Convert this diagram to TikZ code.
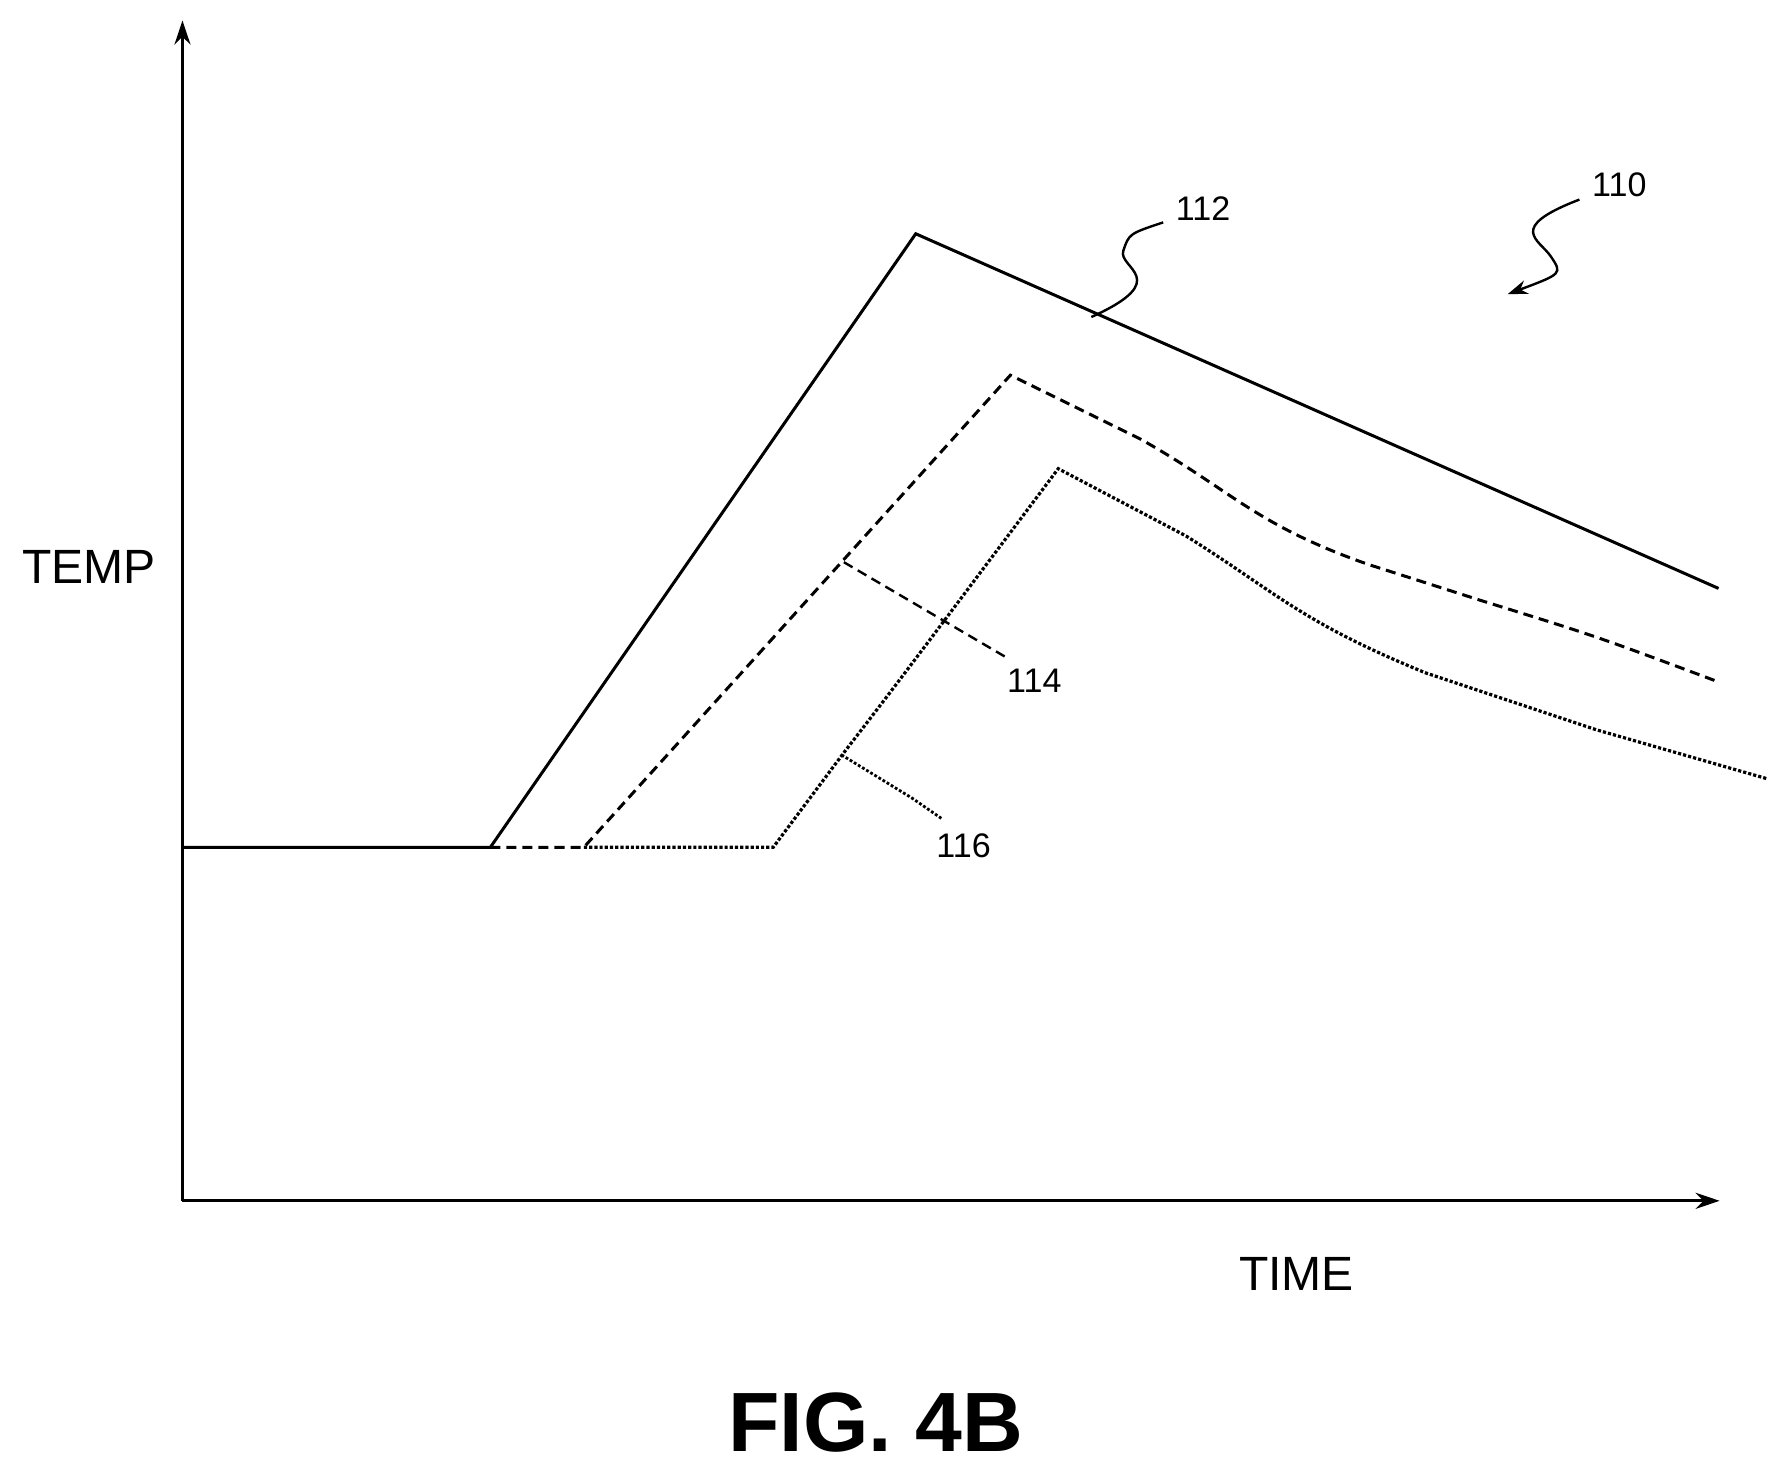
\documentclass[tikz,border=0pt]{standalone}
\usepackage{fontspec}
\setmainfont{Liberation Sans}
\usetikzlibrary{arrows.meta}
\begin{document}
\begin{tikzpicture}[x={(0.02cm,0)},y={(0,-0.02cm)},line width=1.5pt,
  lbl/.style={font=\fontsize{17}{20}\selectfont},
  ax/.style={-{Stealth[length=12pt,width=8pt]}}]
\useasboundingbox (0,0) rectangle (1560,1290);
\coordinate (o) at (160,1053);
\coordinate (ytop) at (160,18);
\coordinate (xend) at (1508,1053);
\draw[ax] (o) -- (ytop);
\draw[ax] (o) -- (xend);
\node[font=\fontsize{24}{28}\selectfont] (temp) at (78,497) {TEMP};
\node[font=\fontsize{24}{28}\selectfont] (time) at (1137,1117) {TIME};
\node[font=\bfseries\fontsize{42}{48}\selectfont] (fig) at (768,1247) {FIG. 4B};
% curves
\draw (160,743) -- (430,743) -- (803,205) -- (1507,516);
\draw[dashed,dash pattern=on 5pt off 3pt] (430,743) -- (512,743) -- (886,329) -- (1000,385)
  .. controls (1080,430) and (1100,460) .. (1200,495) -- (1300,527) .. controls (1400,558) .. (1507,598);
\draw[densely dotted,line width=1.6pt] (512,743) -- (678,743) -- (740,660) .. controls (790,595) .. (928,411)
  -- (1040,470) .. controls (1120,520) and (1140,545) .. (1250,590) -- (1400,640) -- (1550,683);
% leaders
\coordinate (l112a) at (957,278);
\coordinate (l112b) at (1020,195);
\draw[line width=1.2pt] (l112a) .. controls (1030,245) and (980,235) .. (985,220) .. controls (990,205) .. (l112b);
\node[lbl] (n112) at (1055,183) {112};
\coordinate (l114a) at (740,493);
\coordinate (l114b) at (885,578);
\draw[dashed,dash pattern=on 5pt off 3pt,line width=1.2pt] (l114a) -- (l114b);
\node[lbl] (n114) at (907,597) {114};
\coordinate (l116a) at (738,662);
\coordinate (l116b) at (826,718);
\draw[densely dotted,line width=1.4pt] (l116a) -- (800,700) -- (l116b);
\node[lbl] (n116) at (845,742) {116};
\coordinate (l110a) at (1385,175);
\coordinate (l110b) at (1322,258);
\draw[line width=1.2pt,-{Stealth[length=10pt,width=7pt]}] (l110a) .. controls (1320,200) and (1350,210) .. (1360,225) .. controls (1370,240) .. (l110b);
\node[lbl] (n110) at (1420,162) {110};
\end{tikzpicture}
\end{document}
